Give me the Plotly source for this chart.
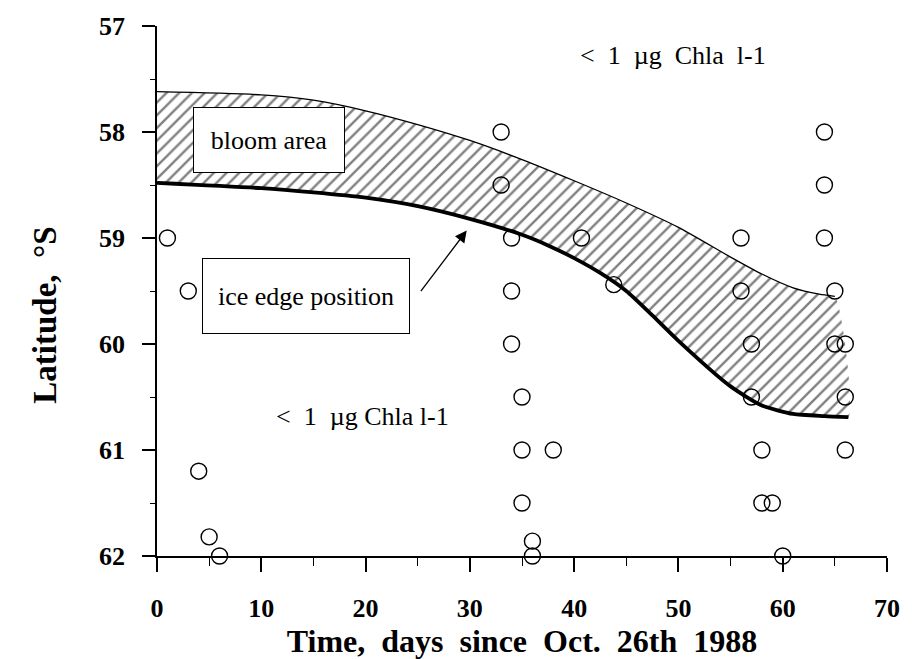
import plotly.graph_objects as go

# Stations sampled (days since 26 Oct 1988, latitude in degrees S)
station_day = [1, 3, 4, 5, 6,
               33, 33, 34, 34, 34, 35, 35, 35, 36, 36, 38,
               40.7, 43.8,
               56, 56, 57, 57, 58, 58, 59, 60,
               64, 64, 64, 65, 65, 66, 66, 66]
station_lat = [59.0, 59.5, 61.2, 61.82, 62.0,
               58.0, 58.5, 59.0, 59.5, 60.0, 60.5, 61.0, 61.5, 61.86, 62.0, 61.0,
               59.0, 59.44,
               59.0, 59.5, 60.0, 60.5, 61.0, 61.5, 61.5, 62.0,
               58.0, 58.5, 59.0, 59.5, 60.0, 60.0, 60.5, 61.0]

# Northern limit of the bloom
bloom_day = [0, 10, 15, 20, 25, 30, 35, 40, 45, 50, 55, 58, 61, 63.5, 65.0]
bloom_lat = [57.62, 57.65, 57.70, 57.80, 57.93, 58.08, 58.26, 58.46, 58.67, 58.90, 59.18, 59.34, 59.47, 59.53, 59.55]

# Ice edge position (southern limit of the bloom)
ice_day = [0, 10, 15, 20, 25, 30, 35, 37.5, 40, 42.5, 45, 47.5, 50, 55, 58, 61, 64, 66.3]
ice_lat = [58.48, 58.53, 58.57, 58.62, 58.70, 58.82, 58.97, 59.07, 59.19, 59.33, 59.50, 59.73, 59.97, 60.40, 60.58, 60.66, 60.68, 60.69]

x_ticks = [0, 10, 20, 30, 40, 50, 60, 70]
y_ticks = [57, 58, 59, 60, 61, 62]

SERIF = "Liberation Serif"

fig = go.Figure()

# Hatched bloom band, closed polygon between the two limits
fig.add_trace(go.Scatter(
    x=bloom_day + ice_day[::-1],
    y=bloom_lat + ice_lat[::-1],
    mode="lines",
    fill="toself",
    fillcolor="white",
    fillpattern=dict(shape="/", size=9, solidity=0.26, fgcolor="black", bgcolor="white"),
    line=dict(width=0, color="black", shape="spline", smoothing=0.6),
    hoverinfo="skip",
))

# Thin northern boundary
fig.add_trace(go.Scatter(
    x=bloom_day, y=bloom_lat, mode="lines",
    line=dict(color="black", width=1.3, shape="spline", smoothing=0.6),
    hoverinfo="skip",
))

# Bold ice edge line
fig.add_trace(go.Scatter(
    x=ice_day, y=ice_lat, mode="lines",
    line=dict(color="black", width=3.8, shape="spline", smoothing=0.6),
    hoverinfo="skip",
))

# Sampling stations
fig.add_trace(go.Scatter(
    x=station_day, y=station_lat, mode="markers",
    marker=dict(symbol="circle-open", size=16, color="black", line=dict(width=1.4)),
    cliponaxis=False,
))

label_font = dict(family=SERIF, size=26, color="black")

fig.add_annotation(
    x=10.73, y=58.08, text="bloom area", showarrow=False,
    font=label_font, bgcolor="white", bordercolor="black", borderwidth=1,
    width=148, height=62, align="center", valign="middle",
)
fig.add_annotation(
    x=14.25, y=59.55, text="ice edge position", showarrow=False,
    font=label_font, bgcolor="white", bordercolor="black", borderwidth=1,
    width=204, height=72, align="center", valign="middle",
)
# Arrow pointing at the ice edge
fig.add_annotation(
    x=29.7, y=58.93, text="", showarrow=True,
    ax=-47, ay=62, arrowhead=2, arrowsize=1.8, arrowwidth=1.3, arrowcolor="black",
)
fig.add_annotation(
    x=49.5, y=57.28, text="<  1  µg  Chla  l-1", showarrow=False, font=label_font,
)
fig.add_annotation(
    x=19.75, y=60.68, text="<  1  µg Chla l-1", showarrow=False, font=label_font,
)

# Vertical axis title
fig.add_annotation(
    xref="paper", yref="paper", x=-0.181, y=0.455,
    text="Latitude,  °S", textangle=-90, showarrow=False,
    font=dict(family=SERIF, size=33, color="black", weight="bold"),
)

fig.update_layout(
    width=912, height=659,
    margin=dict(l=157, r=18, t=25, b=102),
    paper_bgcolor="white", plot_bgcolor="white",
    showlegend=False,
    font=dict(family=SERIF, color="black"),
)

fig.update_xaxes(
    range=[0, 70], tickvals=x_ticks, ticktext=[str(v) for v in x_ticks],
    showgrid=False, zeroline=False,
    showline=True, linecolor="black", linewidth=1.5,
    ticks="outside", ticklen=14, tickwidth=1.5, tickcolor="black",
    minor=dict(ticks="outside", ticklen=8, tickwidth=1.2, tickcolor="black", dtick=5, tick0=0, showgrid=False),
    tickfont=dict(family=SERIF, size=26, color="black", weight="bold"),
    ticklabelstandoff=14,
    title=dict(text="Time,  days  since  Oct.  26th  1988",
               font=dict(family=SERIF, size=32, color="black", weight="bold"), standoff=2),
)
fig.update_yaxes(
    range=[62, 57], tickvals=y_ticks, ticktext=[str(v) for v in y_ticks],
    showgrid=False, zeroline=False,
    showline=True, linecolor="black", linewidth=1.5,
    ticks="outside", ticklen=13, tickwidth=1.5, tickcolor="black",
    minor=dict(ticks="outside", ticklen=5, tickwidth=1.2, tickcolor="black", dtick=0.5, tick0=57, showgrid=False),
    tickfont=dict(family=SERIF, size=26, color="black", weight="bold"),
    ticklabelstandoff=12,
)

fig.write_html("out.html")
